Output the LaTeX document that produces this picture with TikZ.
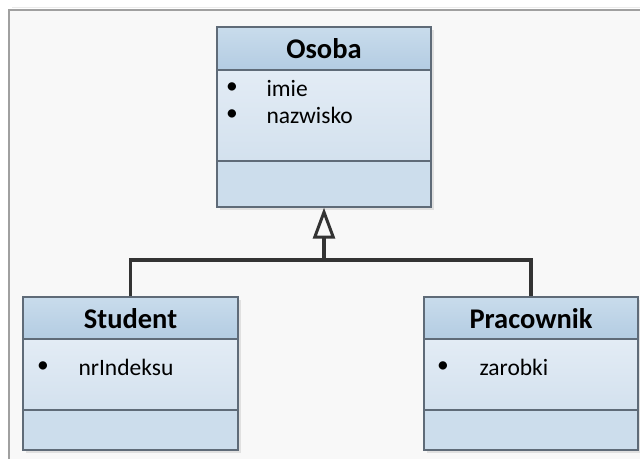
\documentclass[tikz,border=0pt]{standalone}
\usepackage{fontspec}
\setmainfont{Carlito}
\usetikzlibrary{arrows.meta,calc}

\definecolor{pagebg}{HTML}{F8F8F8}
\definecolor{framegray}{HTML}{A0A0A0}
\definecolor{headtop}{HTML}{C9DCEC}
\definecolor{headbot}{HTML}{B3CCE2}
\definecolor{bodytop}{HTML}{E3ECF5}
\definecolor{bodybot}{HTML}{D3E1EE}
\definecolor{opfill}{HTML}{CCDDEC}
\definecolor{boxline}{HTML}{5F6B78}
\definecolor{linkcol}{HTML}{333333}

\tikzset{
  classbox/.style={draw=boxline, line width=1.3pt, rectangle, inner sep=0pt},
  shadowbox/.style={fill=black!12},
  titletext/.style={font=\fontsize{28.5}{30}\selectfont\bfseries, text=black},
  attrtext/.style={font=\fontsize{23.5}{26}\selectfont, text=black, anchor=west},
  bullettext/.style={font=\fontsize{23.5}{26}\selectfont, text=black},
  sepline/.style={draw=boxline, line width=1.1pt},
  link/.style={draw=linkcol, line width=3.2pt},
}

\begin{document}
\begin{tikzpicture}[x=1pt,y=-1pt]
  % page and frame
  \useasboundingbox (0,0) rectangle (640,459);
  \fill[white] (0,0) rectangle (640,459);
  \fill[pagebg] (9,10) rectangle (640,459);
  \draw[black!8, line width=1pt] (12,7) -- (640,7);
  \draw[framegray, line width=1.6pt] (9,459) -- (9,10) -- (640,10);

  % ---------- class Osoba ----------
  \fill[shadowbox] (220,30) rectangle (434,210);
  \shade[top color=headtop, bottom color=headbot] (217,27) rectangle (431,70);
  \shade[top color=bodytop, bottom color=bodybot] (217,70) rectangle (431,161);
  \fill[opfill] (217,161) rectangle (431,207);
  \draw[sepline] (217,70) -- (431,70);
  \draw[sepline] (217,161) -- (431,161);
  \node[classbox, minimum width=214pt, minimum height=180pt] (osoba) at (324,117) {};
  \node[titletext] (osobaT) at (324,49) {Osoba};
  \node[bullettext] (osobaB1) at (232,88) {•};
  \node[attrtext] (osobaA1) at (263,88) {imie};
  \node[bullettext] (osobaB2) at (232,115) {•};
  \node[attrtext] (osobaA2) at (263,115) {nazwisko};

  % ---------- class Student ----------
  \fill[shadowbox] (26,300) rectangle (241,453);
  \shade[top color=headtop, bottom color=headbot] (23,297) rectangle (238,339);
  \shade[top color=bodytop, bottom color=bodybot] (23,339) rectangle (238,410);
  \fill[opfill] (23,410) rectangle (238,450);
  \draw[sepline] (23,339) -- (238,339);
  \draw[sepline] (23,410) -- (238,410);
  \node[classbox, minimum width=215pt, minimum height=153pt] (student) at (130.5,373.5) {};
  \node[titletext] (studentT) at (130.5,319) {Student};
  \node[bullettext] (studentB1) at (43,367) {•};
  \node[attrtext] (studentA1) at (75,367) {nrIndeksu};

  % ---------- class Pracownik ----------
  \fill[shadowbox] (427,300) rectangle (640,453);
  \shade[top color=headtop, bottom color=headbot] (424,297) rectangle (638,339);
  \shade[top color=bodytop, bottom color=bodybot] (424,339) rectangle (638,410);
  \fill[opfill] (424,410) rectangle (638,450);
  \draw[sepline] (424,339) -- (638,339);
  \draw[sepline] (424,410) -- (638,410);
  \node[classbox, minimum width=214pt, minimum height=153pt] (pracownik) at (531,373.5) {};
  \node[titletext] (pracownikT) at (531,319) {Pracownik};
  \node[bullettext] (pracownikB1) at (443,367) {•};
  \node[attrtext] (pracownikA1) at (476,367) {zarobki};

  % ---------- generalisation ----------
  \coordinate (join) at (324,260);
  \draw[link] (student.north) |- (join) -| (pracownik.north);
  \draw[link, -{Triangle[open, length=31pt, width=22pt, line width=3pt]}] (join) -- (osoba.south);
\end{tikzpicture}
\end{document}
